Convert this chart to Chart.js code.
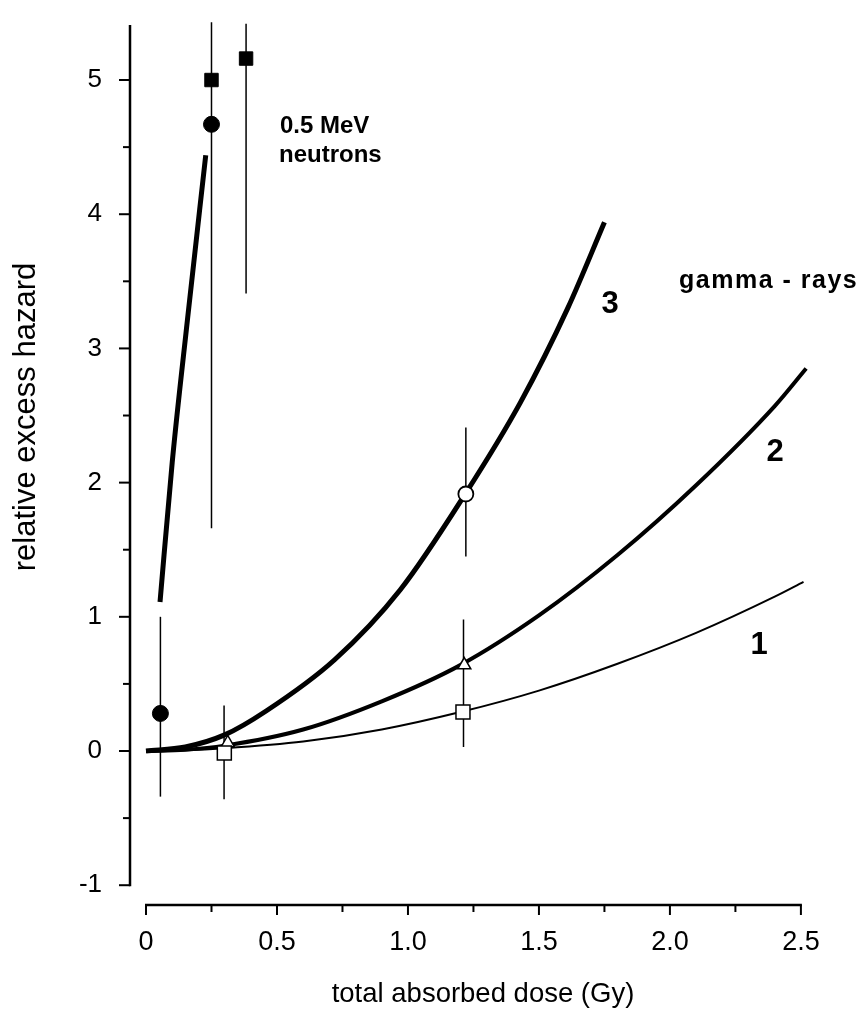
<!DOCTYPE html>
<html><head><meta charset="utf-8">
<script src="https://cdn.jsdelivr.net/npm/chart.js@4.4.1/dist/chart.umd.min.js"></script>
<style>html,body{margin:0;padding:0;background:#fff;overflow:hidden}#wrap{position:relative;width:864px;height:1014px}</style>
</head><body><div id="wrap"><canvas id="c"></canvas></div>
<script>
// ---- tick labels ----
const xTickValues = [0, 0.5, 1.0, 1.5, 2.0, 2.5];
const xTickLabels = ['0', '0.5', '1.0', '1.5', '2.0', '2.5'];
const yTickValues = [-1, 0, 1, 2, 3, 4, 5];
const yTickLabels = ['-1', '0', '1', '2', '3', '4', '5'];

// ---- gamma-ray fitted curves ----
const gamma1Dose   = [0, 0.15, 0.3, 0.6, 0.9, 1.2, 1.5, 1.8, 2.1, 2.4, 2.51];
const gamma1Hazard = [0, 0.005, 0.02, 0.07, 0.16, 0.29, 0.45, 0.65, 0.88, 1.15, 1.26];
const gamma2Dose   = [0, 0.15, 0.3, 0.6, 0.9, 1.2, 1.5, 1.8, 2.1, 2.4, 2.52];
const gamma2Hazard = [0, 0.01, 0.04, 0.16, 0.37, 0.64, 1.01, 1.46, 1.98, 2.57, 2.85];
const gamma3Dose   = [0, 0.15, 0.3, 0.46, 0.72, 0.97, 1.22, 1.43, 1.61, 1.75];
const gamma3Hazard = [0, 0.03, 0.12, 0.3, 0.68, 1.2, 1.92, 2.6, 3.3, 3.94];

// ---- neutron fitted line ----
const neutronFitDose   = [0.0535, 0.1, 0.158, 0.228];
const neutronFitHazard = [1.11, 2.15, 3.21, 4.44];

// ---- observed points ----
const neutronCircleDose   = [0.055, 0.25];
const neutronCircleHazard = [0.28, 4.67];
const neutronSquareDose   = [0.25, 0.382];
const neutronSquareHazard = [5.0, 5.16];
const gammaSquareDose     = [0.299, 1.21];
const gammaSquareHazard   = [-0.015, 0.29];
const gammaTriangleDose   = [0.312, 1.215];
const gammaTriangleHazard = [0.06, 0.64];
const gammaCircleDose     = [1.221];
const gammaCircleHazard   = [1.915];

// ---- error bars ----
const errDose = [0.055, 0.25, 0.382, 0.298, 1.212, 1.221];
const errLow  = [-0.34, 1.66, 3.41, -0.36, 0.03, 1.45];
const errHigh = [1.0, 5.43, 5.42, 0.34, 0.98, 2.41];

const FONT = '"Liberation Sans", Arial, Helvetica, sans-serif';
const pts = (xs, ys) => xs.map((x, i) => ({x: x, y: ys[i]}));

const datasets = [];
function markers(xs, ys, style, r, fill, bw) {
  datasets.push({data: pts(xs, ys), pointStyle: style, pointRadius: r, pointHoverRadius: r,
    backgroundColor: fill, borderColor: '#000', pointBorderWidth: bw, borderWidth: bw,
    showLine: false, order: 0, clip: false});
}
function curve(xs, ys, w) {
  datasets.push({data: pts(xs, ys), showLine: true, borderColor: '#000', borderWidth: w,
    pointRadius: 0, cubicInterpolationMode: 'monotone', fill: false, order: 1, clip: false,
    borderCapStyle: 'butt'});
}
markers(neutronCircleDose, neutronCircleHazard, 'circle', 8, '#000', 1);
markers(neutronSquareDose, neutronSquareHazard, 'rect', 9.5, '#000', 1);
markers(gammaSquareDose, gammaSquareHazard, 'rect', 9.9, '#fff', 1.5);
markers(gammaTriangleDose, gammaTriangleHazard, 'triangle', 7.5, '#fff', 1.5);
markers(gammaCircleDose, gammaCircleHazard, 'circle', 7.5, '#fff', 1.8);
curve(gamma1Dose, gamma1Hazard, 2);
curve(gamma2Dose, gamma2Hazard, 4);
curve(gamma3Dose, gamma3Hazard, 5);
curve(neutronFitDose, neutronFitHazard, 5);
errDose.forEach((d, i) => {
  datasets.push({data: [{x: d, y: errLow[i]}, {x: d, y: errHigh[i]}], showLine: true,
    borderColor: '#000', borderWidth: 1.5, pointRadius: 0, order: 2, clip: false});
});

const decor = {
  id: 'decor',
  afterDraw(chart) {
    const {ctx, chartArea} = chart;
    const x = chart.scales.x, y = chart.scales.y;
    ctx.save();
    ctx.strokeStyle = '#000';
    ctx.fillStyle = '#000';
    // y axis line + ticks
    const ax = chartArea.left;
    ctx.lineWidth = 2.5;
    ctx.beginPath(); ctx.moveTo(ax, chartArea.top); ctx.lineTo(ax, y.getPixelForValue(-1) + 1); ctx.stroke();
    ctx.lineWidth = 2;
    for (let v = -1; v <= 5.001; v += 0.5) {
      const p = y.getPixelForValue(v);
      const major = Math.abs(v - Math.round(v)) < 1e-6;
      ctx.beginPath(); ctx.moveTo(ax, p); ctx.lineTo(ax - (major ? 11 : 7), p); ctx.stroke();
    }
    // x axis line + ticks
    const ay = chartArea.bottom;
    ctx.lineWidth = 2.5;
    ctx.beginPath(); ctx.moveTo(x.getPixelForValue(0) - 1, ay); ctx.lineTo(x.getPixelForValue(2.5) + 1, ay); ctx.stroke();
    ctx.lineWidth = 2;
    for (let v = 0; v <= 2.5001; v += 0.25) {
      const p = x.getPixelForValue(v);
      const major = Math.abs(v * 2 - Math.round(v * 2)) < 1e-6;
      ctx.beginPath(); ctx.moveTo(p, ay); ctx.lineTo(p, ay + (major ? 10 : 7)); ctx.stroke();
    }
    // axis titles
    ctx.textBaseline = 'alphabetic';
    ctx.textAlign = 'center';
    ctx.font = '27.5px ' + FONT;
    ctx.fillText('total absorbed dose (Gy)', 483, 1002);
    ctx.save();
    ctx.translate(35, 417);
    ctx.rotate(-Math.PI / 2);
    ctx.font = '31px ' + FONT;
    ctx.fillText('relative excess hazard', 0, 0);
    ctx.restore();
    // annotations
    ctx.textAlign = 'left';
    ctx.font = 'bold 24px ' + FONT;
    ctx.fillText('0.5 MeV', 280, 133);
    ctx.fillText('neutrons', 279, 162);
    ctx.font = 'bold 25px ' + FONT;
    if ('letterSpacing' in ctx) ctx.letterSpacing = '1.5px';
    ctx.fillText('gamma - rays', 679, 288);
    if ('letterSpacing' in ctx) ctx.letterSpacing = '0px';
    ctx.textAlign = 'center';
    ctx.textBaseline = 'middle';
    ctx.font = 'bold 31px ' + FONT;
    ctx.fillText('3', 610, 304);
    ctx.fillText('2', 775, 452);
    ctx.fillText('1', 759, 645);
    ctx.restore();
  }
};

new Chart(document.getElementById('c'), {
  type: 'scatter',
  data: {datasets: datasets},
  options: {
    responsive: true, maintainAspectRatio: false, animation: false,
    layout: {padding: {left: 0, top: 25, right: 50, bottom: 0}},
    plugins: {legend: {display: false}, tooltip: {enabled: false}},
    scales: {
      x: {
        type: 'linear', min: -0.0611, max: 2.55, bounds: 'data',
        grid: {display: false, drawTicks: false}, border: {display: false},
        afterFit: s => { s.height = 109; s.paddingLeft = 0; s.paddingRight = 0; s.paddingTop = 0; s.paddingBottom = 0; },
        afterBuildTicks: s => { s.ticks = xTickValues.map(v => ({value: v})); },
        ticks: {autoSkip: false, maxRotation: 0, padding: 21, color: '#000',
          font: {family: FONT, size: 27},
          callback: (v, i) => xTickLabels[i]}
      },
      y: {
        type: 'linear', min: -1.1475, max: 5.41, bounds: 'data',
        grid: {display: false, drawTicks: false}, border: {display: false},
        afterFit: s => { s.width = 130; s.paddingTop = 0; s.paddingBottom = 0; s.paddingLeft = 0; s.paddingRight = 0; },
        afterBuildTicks: s => { s.ticks = yTickValues.map(v => ({value: v})); },
        ticks: {autoSkip: false, padding: 28, color: '#000',
          font: {family: FONT, size: 26},
          callback: (v, i) => yTickLabels[i]}
      }
    }
  },
  plugins: [decor]
});
</script>
</body></html>
